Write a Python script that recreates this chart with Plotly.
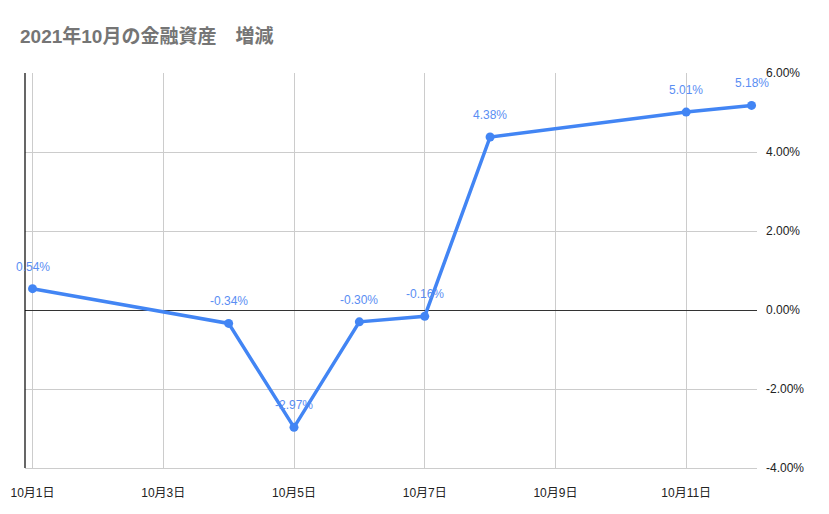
import plotly.graph_objects as go

# data
dates = ['2021-10-01', '2021-10-04', '2021-10-05', '2021-10-06',
         '2021-10-07', '2021-10-08', '2021-10-11', '2021-10-12']
change_pct = [0.54, -0.34, -2.97, -0.30, -0.16, 4.38, 5.01, 5.18]

tick_dates = ['2021-10-01', '2021-10-03', '2021-10-05',
              '2021-10-07', '2021-10-09', '2021-10-11']
tick_labels = ['10月1日', '10月3日', '10月5日', '10月7日', '10月9日', '10月11日']

y_ticks = [-4, -2, 0, 2, 4, 6]
y_labels = ['-4.00%', '-2.00%', '0.00%', '2.00%', '4.00%', '6.00%']

blue = '#4285F4'
label_blue = '#5a8ef3'
base_font = 'Liberation Sans, Arial, Noto Sans CJK JP, sans-serif'

fig = go.Figure()
fig.add_trace(go.Scatter(
    x=dates,
    y=change_pct,
    mode='lines+markers',
    line=dict(color=blue, width=3.5),
    marker=dict(color=blue, size=9),
    cliponaxis=False,
    showlegend=False,
))

# data labels above each point
for d, v in zip(dates, change_pct):
    fig.add_annotation(
        x=d, y=v, text=f'{v:.2f}%', showarrow=False,
        yshift=22, font=dict(color=label_blue, size=12, family=base_font),
    )

fig.update_layout(
    width=821, height=506,
    margin=dict(l=17, r=72, t=65, b=46, autoexpand=False),
    paper_bgcolor='white', plot_bgcolor='white',
    font=dict(family=base_font, color='#222222', size=12),
    title=dict(
        text='<b>2021年10月の金融資産　増減</b>',
        x=12 / 821, xanchor='left', y=0.943, yanchor='middle',
        font=dict(size=19, color='#757575', family=base_font),
    ),
)

fig.update_xaxes(
    type='date',
    range=['2021-09-30 21:14', '2021-10-12 02:00'],
    tickvals=tick_dates, ticktext=tick_labels,
    showgrid=True, gridcolor='#cccccc', gridwidth=1,
    showline=True, linecolor='#cccccc', mirror=False,
    ticks='', ticklabelstandoff=14, automargin=False,
    tickfont=dict(size=12, color='#222222'),
)

fig.update_yaxes(
    range=[-4, 6],
    side='right',
    tickvals=y_ticks, ticktext=y_labels,
    showgrid=True, gridcolor='#cccccc', gridwidth=1,
    zeroline=True, zerolinecolor='#333333', zerolinewidth=1,
    showline=False, ticks='', ticklabelstandoff=8, automargin=False,
    tickfont=dict(size=12, color='#222222'),
)

# black left axis line
fig.add_shape(type='line', xref='paper', yref='paper', x0=0, x1=0, y0=0, y1=1,
              line=dict(color='#000000', width=1.2))

fig.write_html('out.html')
